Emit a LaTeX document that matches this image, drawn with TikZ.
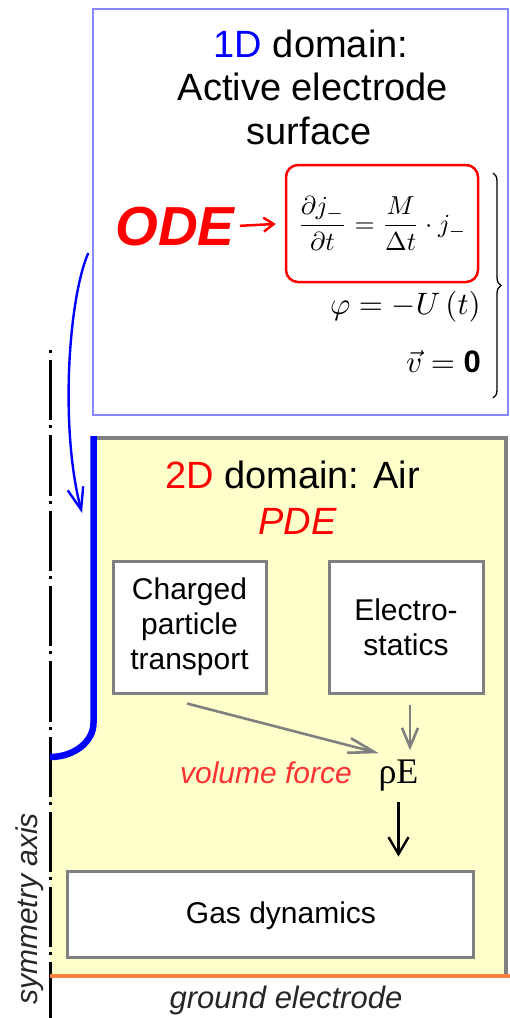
\documentclass[tikz,border=0pt]{standalone}
\usepackage{fontspec}
\setmainfont{Liberation Sans}
\newfontfamily\seriffont{Liberation Serif}
\usepackage{graphicx}
\usetikzlibrary{arrows.meta,decorations.pathreplacing}
\definecolor{paleyellow}{RGB}{255,255,204}
\definecolor{boxgray}{RGB}{128,128,128}
\definecolor{frameblue}{RGB}{135,135,255}
\definecolor{elecorange}{RGB}{255,128,64}
\definecolor{forcered}{RGB}{255,50,50}
\begin{document}
\begin{tikzpicture}[x=1pt,y=-1pt,
  txt/.style={inner sep=0pt, anchor=base},
  bigfont/.style={font=\fontsize{38}{44}\selectfont},
  pbox/.style={draw=boxgray, line width=3pt, fill=white, inner sep=0pt, align=center, font=\fontsize{30}{35}\selectfont},
  grayarr/.style={draw=boxgray, line width=2.6pt},
  blackarr/.style={draw=black, line width=2.4pt, -{Straight Barb[length=17pt,width=20pt]}},
  mathline/.style={inner sep=0pt, anchor=east}]
\useasboundingbox (0,0) rectangle (510,1018);

% 2D domain region
\fill[paleyellow] (93.5,438) -- (506,438) -- (506,976) -- (50,976) -- (50,757)
  .. controls (74,757) and (93.5,741.8) .. (93.5,723) -- cycle;
\draw[boxgray, line width=3.5pt] (93.5,438) -- (506,438) -- (506,977.5);

% symmetry axis
\draw[line width=3pt, dash pattern=on 3pt off 7pt on 60.3pt off 5pt] (50,350) -- (50,1018);

% active electrode
\draw[blue, line width=6.5pt] (93.5,436) -- (93.5,723) .. controls (93.5,741.8) and (74,757) .. (50,757);

% ground electrode
\draw[elecorange, line width=3.5pt] (50,976) -- (510,976);

% 1D domain box
\node[draw=frameblue, line width=1.5pt, fill=white, minimum width=415pt, minimum height=406pt, inner sep=0pt] (onebox) at (300.5,212) {};
\node[txt, bigfont] (t1) at (311,57) {\textcolor{blue}{1D} domain:};
\node[txt, bigfont] (t2) at (313,100) {Active electrode};
\node[txt, bigfont] (t3) at (309,144) {surface};

\node[txt, text=red, font=\fontsize{55}{60}\selectfont\bfseries\itshape] (ode) at (175,245) {ODE};
\node[draw=red, line width=2.5pt, rounded corners=12pt, minimum width=192pt, minimum height=117pt, inner sep=0pt] (eqb) at (382,223.5)
  {\scalebox{2.6}{$\displaystyle\frac{\partial j_-}{\partial t}=\frac{M}{\Delta t}\cdot j_-$}};
\draw[red, line width=2.5pt, -{Straight Barb[length=10pt,width=14pt]}, shorten <=5pt, shorten >=9pt] (ode.east) -- (eqb.west);

\node[mathline] (phi) at (481,307) {\scalebox{3.1}{$\varphi=-U\left(t\right)$}};
\node[mathline] (vel) at (481,362) {\scalebox{3.1}{$\vec{v}=\mathbf{0}$}};
\draw[line width=1.3pt, decorate, decoration={brace, amplitude=8pt}] (493,173) -- (493,398);

% 2D domain texts
\node[txt, bigfont] (t4) at (292.5,488) {\textcolor{red}{2D} domain: Air};
\node[txt, text=red, font=\fontsize{38}{44}\selectfont\itshape] (pde) at (297.5,534) {PDE};

\node[pbox, minimum width=153pt, minimum height=132pt] (charged) at (189.5,627) {Charged\\particle\\transport};
\node[pbox, minimum width=154pt, minimum height=132pt] (electro) at (406,627) {Electro-\\statics};

\node[txt, font=\seriffont\fontsize{36}{40}\selectfont] (rho) at (398.5,783) {ρE};
\node[txt, text=forcered, font=\fontsize{30}{36}\selectfont\itshape] (vf) at (266,783) {volume force};

\node[draw=boxgray, line width=3pt, fill=white, minimum width=406pt, minimum height=86pt, inner sep=0pt] (gas) at (270,914) {};
\node[txt, font=\fontsize{30}{36}\selectfont] (gastext) at (281,923) {Gas dynamics};

\node[txt, font=\fontsize{31}{36}\selectfont\itshape, text=black!85] (ground) at (286,1008) {ground electrode};
\node[rotate=90, anchor=base, inner sep=0pt, font=\fontsize{30}{36}\selectfont\itshape, text=black!85] (sym) at (37,909) {symmetry axis};

% connectors
\coordinate (esouth) at ([xshift=4pt]electro.south);
\coordinate (tipE) at (82,513);
\draw[grayarr, -{Straight Barb[length=26pt,width=15pt]}] ([shift={(-2.5pt,-9pt)}]charged.south) -- ([shift={(0.5pt,6pt)}]rho.north west);
\draw[grayarr, -{Straight Barb[length=19pt,width=16pt]}, shorten <=10pt, shorten >=9pt] (esouth) -- (esouth |- rho.north);
\draw[blackarr, shorten <=11pt, shorten >=13pt] (rho.south) -- (rho.south |- gas.north);
\draw[blue, line width=2.4pt, -{Straight Barb[length=22pt,width=16pt]}] ([shift={(-4pt,-41pt)}]onebox.west) .. controls (68,300) and (60,430) .. (tipE);
\end{tikzpicture}
\end{document}
